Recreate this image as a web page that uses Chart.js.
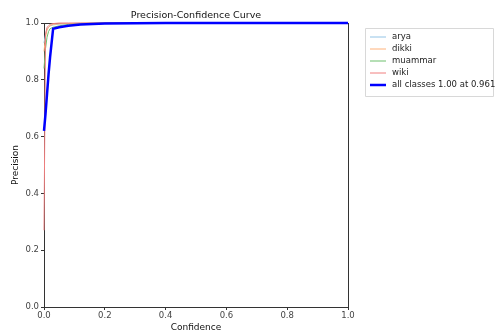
<!DOCTYPE html>
<html>
<head>
<meta charset="utf-8">
<script src="https://cdn.jsdelivr.net/npm/chart.js@4.4.0/dist/chart.umd.min.js"></script>
<style>
  html, body { margin: 0; padding: 0; background: #fff; }
  #wrap { width: 496px; height: 333px; }
</style>
</head>
<body>
<div id="wrap"><canvas id="pcChart" width="496" height="333"></canvas></div>
<script>
// confidence values shared by all curves
var confidence = [0, 0.005, 0.01, 0.015, 0.02, 0.03, 0.05, 0.08, 0.12, 0.2, 0.4, 0.7, 1.0];

// precision per class
var arya    = [0.93, 0.96, 0.98, 0.985, 0.99, 0.993, 0.996, 0.998, 0.999, 1, 1, 1, 1];
var dikki   = [0.90, 0.95, 0.975, 0.985, 0.99, 0.995, 0.997, 0.998, 0.999, 1, 1, 1, 1];
var muammar = [0.84, 0.91, 0.95, 0.97, 0.98, 0.985, 0.99, 0.995, 0.998, 1, 1, 1, 1];
var wiki    = [0.27, 0.96, 0.985, 0.99, 0.995, 0.998, 1, 1, 1, 1, 1, 1, 1];
var allClasses = [0.62, 0.68, 0.75, 0.82, 0.88, 0.98, 0.985, 0.99, 0.995, 0.998, 1, 1, 1];

var classNames = ['arya', 'dikki', 'muammar', 'wiki', 'all classes 1.00 at 0.961'];
var classColors = ['#93c4e6', '#ffb27a', '#6cbf6c', '#f07f7f', '#0000ff'];
var classWidths = [1, 1, 1, 1, 2.5];
var seriesList = [arya, dikki, muammar, wiki, allClasses];
var chartTitle = 'Precision-Confidence Curve';

function toPoints(values) {
    var pts = [];
    for (var i = 0; i < confidence.length; i++) {
        pts.push({x: confidence[i], y: values[i]});
    }
    return pts;
}

var datasets = [];
for (var i = 0; i < seriesList.length; i++) {
    datasets.push({
        label: classNames[i],
        data: toPoints(seriesList[i]),
        borderColor: classColors[i],
        backgroundColor: classColors[i],
        borderWidth: classWidths[i],
        pointRadius: 0,
        tension: 0,
        fill: false,
        clip: 2,
        order: seriesList.length - i   // blue on top, classes under it
    });
}
var FONT = 'DejaVu Sans';

// matplotlib-ish box around the axes, title over the axes, legend on the right
var boxAndLegend = {
    id: 'boxAndLegend',
    beforeDatasetsDraw: function(chart) {
        var ctx = chart.ctx;
        var a = chart.chartArea;
        ctx.save();
        ctx.strokeStyle = '#333';
        ctx.lineWidth = 1;
        ctx.strokeRect(Math.round(a.left) + 0.5, Math.round(a.top) + 0.5,
            Math.round(a.right - a.left), Math.round(a.bottom - a.top));
        ctx.fillStyle = '#111';
        ctx.font = '9.5px ' + FONT;
        ctx.textAlign = 'center';
        ctx.textBaseline = 'alphabetic';
        ctx.fillText(chartTitle, (a.left + a.right) / 2, a.top - 5);
        ctx.restore();
    },
    afterDraw: function(chart) {
        var ctx = chart.ctx;
        ctx.save();
        var lx = 365, ly = 28, lw = 128, lh = 68;
        ctx.fillStyle = '#fff';
        ctx.strokeStyle = '#d8d8d8';
        ctx.lineWidth = 1;
        ctx.beginPath();
        ctx.rect(lx + 0.5, ly + 0.5, lw, lh);
        ctx.fill();
        ctx.stroke();
        ctx.font = '8.5px ' + FONT;
        ctx.textBaseline = 'middle';
        chart.data.datasets.forEach(function(ds, k) {
            var y = ly + 9 + k * 12;
            ctx.strokeStyle = ds.borderColor;
            ctx.lineWidth = ds.borderWidth;
            ctx.beginPath();
            ctx.moveTo(lx + 5, y);
            ctx.lineTo(lx + 21, y);
            ctx.stroke();
            ctx.fillStyle = '#222';
            ctx.fillText(ds.label, lx + 27, y);
        });
        ctx.restore();
    }
};

new Chart('pcChart', {
    type: 'line',
    data: {datasets: datasets},
    plugins: [boxAndLegend],
    options: {
        responsive: false,
        animation: false,
        layout: {padding: {top: 23, right: 148, left: 0, bottom: 0}},
        plugins: {
            legend: {display: false},
            tooltip: {enabled: false},
            title: {display: false}
        },
        scales: {
            x: {
                type: 'linear',
                min: 0,
                max: 1,
                afterFit: function(s) { s.height = 26; },
                grid: {display: true, drawOnChartArea: false, drawTicks: true, tickLength: 3, color: '#333'},
                border: {display: false},
                ticks: {stepSize: 0.2, padding: 1, color: '#444', font: {family: FONT, size: 8.5},
                    callback: function(v) { return v.toFixed(1); }},
                title: {display: true, text: 'Confidence', color: '#111', font: {family: FONT, size: 9}, padding: {top: 0, bottom: 0}}
            },
            y: {
                type: 'linear',
                min: 0,
                max: 1,
                afterFit: function(s) { s.width = 44; },
                grid: {display: true, drawOnChartArea: false, drawTicks: true, tickLength: 3, color: '#333'},
                border: {display: false},
                ticks: {stepSize: 0.2, padding: 2, color: '#444', font: {family: FONT, size: 8.5},
                    callback: function(v) { return v.toFixed(1); }},
                title: {display: true, text: 'Precision', color: '#111', font: {family: FONT, size: 9}, padding: {top: 10, bottom: 4}}
            }
        }
    }
});
</script>
</body>
</html>
